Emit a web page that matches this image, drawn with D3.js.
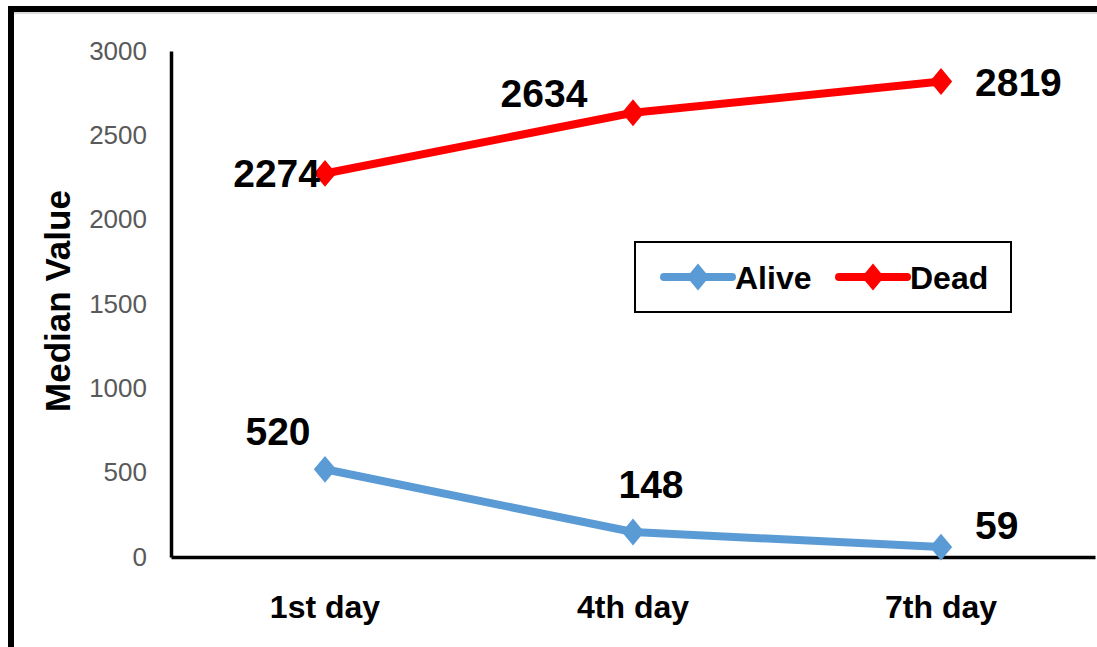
<!DOCTYPE html>
<html>
<head>
<meta charset="utf-8">
<script src="https://cdn.jsdelivr.net/npm/d3@7"></script>
<style>
  html, body { margin: 0; padding: 0; background: #fff; }
  svg { display: block; }
</style>
</head>
<body>
<script>
// Chart data
const categories = ["1st day", "4th day", "7th day"];
const seriesNames = ["Alive", "Dead"];
const aliveValues = [520, 148, 59];
const deadValues = [2274, 2634, 2819];
const yTicks = [0, 500, 1000, 1500, 2000, 2500, 3000];

const colors = { Alive: "#5B9BD5", Dead: "#FF0000" };

// Data label offsets relative to each point (dx, dy, anchor)
const labelPlacement = {
  Alive: [
    { dx: -47, dy: -38, anchor: "middle" },
    { dx: 18, dy: -48, anchor: "middle" },
    { dx: 34, dy: -22, anchor: "start" }
  ],
  Dead: [
    { dx: -5, dy: 0, anchor: "end" },
    { dx: -89, dy: -20, anchor: "middle" },
    { dx: 34, dy: 0, anchor: "start" }
  ]
};

const W = 1097, H = 647;
const svg = d3.select("body").append("svg").attr("width", W).attr("height", H);
svg.append("rect").attr("width", W).attr("height", H).attr("fill", "#fff");

// Frame: top and left edges
svg.append("rect").attr("x", 8).attr("y", 12).attr("width", W - 8).attr("height", 2).attr("fill", "#dcdcdc");
svg.append("rect").attr("x", 8).attr("y", 6).attr("width", W - 8).attr("height", 6).attr("fill", "#000");
svg.append("rect").attr("x", 8).attr("y", 6).attr("width", 6).attr("height", H - 6).attr("fill", "#000");

const plot = { left: 171, right: 1095, top: 51, bottom: 557 };

const x = d3.scaleBand().domain(categories).range([plot.left, plot.right]);
const cx = c => x(c) + x.bandwidth() / 2;
const y = d3.scaleLinear().domain([0, 3000]).range([plot.bottom, plot.top]);

// Y axis
const yAxis = svg.append("g")
  .attr("transform", `translate(${plot.left},0)`)
  .call(d3.axisLeft(y).tickValues(yTicks).tickFormat(d3.format("d"))
    .tickSize(0).tickSizeOuter(0).tickPadding(24));
yAxis.select(".domain").attr("stroke", "#000").attr("stroke-width", 3.5);
yAxis.selectAll("text")
  .attr("fill", "#595959")
  .style("font-family", "'Liberation Sans', Arial, sans-serif")
  .style("font-size", "26px");

// X axis
const xAxis = svg.append("g")
  .attr("transform", `translate(0,${plot.bottom})`)
  .call(d3.axisBottom(x).tickSize(0).tickSizeOuter(0).tickPadding(38));
xAxis.select(".domain").attr("stroke", "#000").attr("stroke-width", 3.5);
xAxis.selectAll("text")
  .attr("fill", "#000")
  .attr("font-weight", "bold")
  .style("font-family", "'Liberation Sans', Arial, sans-serif")
  .style("font-size", "32px");

// Y axis title
svg.append("text")
  .attr("transform", `translate(70,${(plot.top + plot.bottom) / 2 - 3}) rotate(-90)`)
  .attr("text-anchor", "middle")
  .attr("font-weight", "bold")
  .style("font-family", "'Liberation Sans', Arial, sans-serif")
  .style("font-size", "35px")
  .text("Median Value");

const series = [
  { name: "Alive", values: aliveValues },
  { name: "Dead", values: deadValues }
];

const line = d3.line().x((d, i) => cx(categories[i])).y(d => y(d));

// Diamond marker, slightly taller than wide
const diamondType = {
  draw(context, size) {
    const w = Math.sqrt(size) * 0.5, h = w * 1.2;
    context.moveTo(0, -h);
    context.lineTo(w, 0);
    context.lineTo(0, h);
    context.lineTo(-w, 0);
    context.closePath();
  }
};
const diamond = d3.symbol().type(diamondType).size(500);

series.forEach(s => {
  const g = svg.append("g");
  g.append("path")
    .datum(s.values)
    .attr("d", line)
    .attr("fill", "none")
    .attr("stroke", colors[s.name])
    .attr("stroke-width", 8)
    .attr("stroke-linejoin", "round");
  g.selectAll("path.marker")
    .data(s.values)
    .join("path")
    .attr("class", "marker")
    .attr("d", diamond)
    .attr("transform", (d, i) => `translate(${cx(categories[i])},${y(d)})`)
    .attr("fill", colors[s.name]);
  g.selectAll("text.lbl")
    .data(s.values)
    .join("text")
    .attr("class", "lbl")
    .attr("x", (d, i) => cx(categories[i]) + labelPlacement[s.name][i].dx)
    .attr("y", (d, i) => y(d) + labelPlacement[s.name][i].dy)
    .attr("dy", "0.36em")
    .attr("text-anchor", (d, i) => labelPlacement[s.name][i].anchor)
    .attr("font-weight", "bold")
    .style("font-family", "'Liberation Sans', Arial, sans-serif")
    .style("font-size", "39px")
    .attr("fill", "#000")
    .text(d => d);
});

// Legend
const legend = svg.append("g");
legend.append("rect")
  .attr("x", 635).attr("y", 242).attr("width", 376).attr("height", 70)
  .attr("fill", "#fff").attr("stroke", "#000").attr("stroke-width", 2);
const legendItems = [
  { name: seriesNames[0], x0: 664 },
  { name: seriesNames[1], x0: 839 }
];
legendItems.forEach(it => {
  const ly = 277;
  legend.append("line")
    .attr("x1", it.x0).attr("x2", it.x0 + 68)
    .attr("y1", ly).attr("y2", ly)
    .attr("stroke", colors[it.name]).attr("stroke-width", 8).attr("stroke-linecap", "round");
  legend.append("path")
    .attr("d", diamond)
    .attr("transform", `translate(${it.x0 + 34},${ly})`)
    .attr("fill", colors[it.name]);
  legend.append("text")
    .attr("x", it.x0 + 71).attr("y", ly)
    .attr("dy", "0.36em")
    .attr("font-weight", "bold")
    .style("font-family", "'Liberation Sans', Arial, sans-serif")
    .style("font-size", "32px")
    .text(it.name);
});
</script>
</body>
</html>
